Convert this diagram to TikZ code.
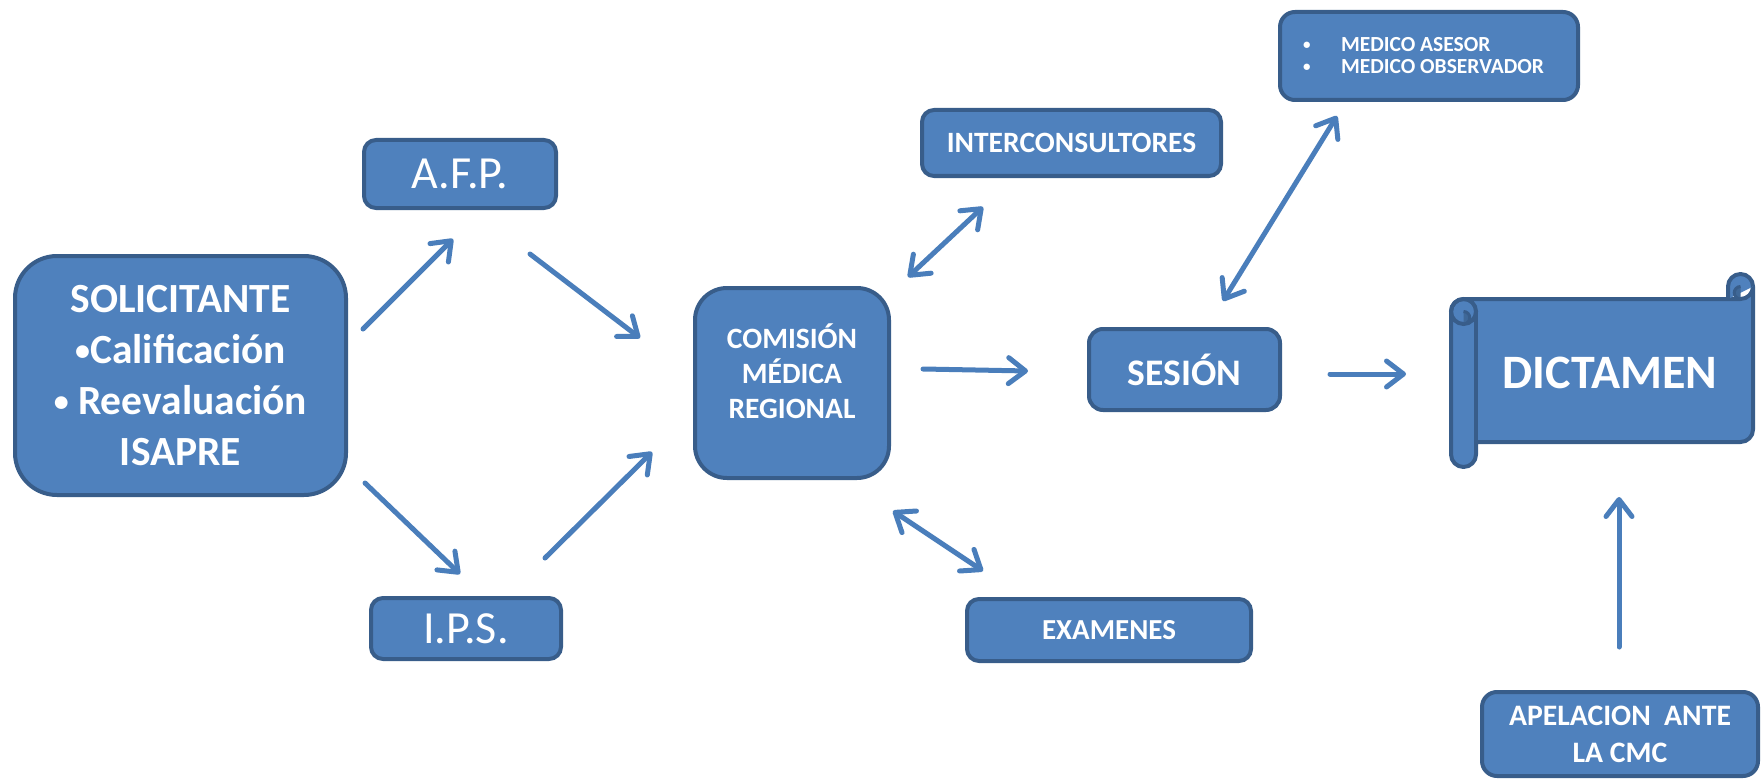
\documentclass[tikz,border=0pt]{standalone}
\usepackage{fontspec}
\setmainfont{Carlito}
\usetikzlibrary{arrows.meta}
\definecolor{boxfill}{HTML}{4F81BD}
\definecolor{boxline}{HTML}{385D8A}
\definecolor{arrowblue}{HTML}{4A7EBB}
\definecolor{rolldark}{HTML}{3F6898}
\newcommand{\mybul}[2]{\raisebox{#2}{\fontsize{#1}{#1}\selectfont •}}
\begin{document}
\begin{tikzpicture}[x=1pt,y=1pt,
  box/.style={draw=boxline, fill=boxfill, line width=4pt, text=white, align=center, inner sep=0pt},
  arr/.style={draw=arrowblue, line width=5pt, line cap=round, -{Straight Barb[length=17pt,width=26pt,round]}},
  darr/.style={draw=arrowblue, line width=5pt, line cap=round, {Straight Barb[length=17pt,width=26pt,round]}-{Straight Barb[length=17pt,width=26pt,round]}},
  scroll/.style={draw=boxline, fill=boxfill, line width=4pt, line join=round},
  wtext/.style={text=white, align=center, inner sep=0pt},
]
\useasboundingbox (0,0) rectangle (1762,-781);

% boxes
\node[box, rounded corners=42pt, minimum width=331pt, minimum height=239pt,
      font=\bfseries\fontsize{41.5}{51}\selectfont] (sol) at (180.5,-375.5)
  {SOLICITANTE\\\mybul{30}{3pt}Calificación\\\mybul{30}{3pt} Reevaluación\\ISAPRE};
\node[box, rounded corners=12pt, minimum width=192pt, minimum height=68pt,
      font=\fontsize{46}{50}\selectfont] (afp) at (460,-174) {A.F.P.};
\node[box, rounded corners=12pt, minimum width=190pt, minimum height=61pt,
      font=\fontsize{46}{50}\selectfont] (ips) at (466,-628.5) {I.P.S.};
\node[box, rounded corners=32pt, minimum width=194pt, minimum height=190pt] (com) at (792,-383) {};
\node[wtext, font=\bfseries\fontsize{29.5}{35}\selectfont] (comtxt) at (792,-371)
  {COMISIÓN\\MÉDICA\\REGIONAL};
\node[box, rounded corners=12pt, minimum width=299pt, minimum height=66pt,
      font=\bfseries\fontsize{29.5}{34}\selectfont] (inter) at (1071.5,-143) {INTERCONSULTORES};
\node[box, rounded corners=12pt, minimum width=284pt, minimum height=62pt,
      font=\bfseries\fontsize{29}{34}\selectfont] (exam) at (1109,-630) {EXAMENES};
\node[box, rounded corners=14pt, minimum width=191pt, minimum height=81pt,
      font=\bfseries\fontsize{37.5}{40}\selectfont] (ses) at (1184.5,-369.5) {SESIÓN};
\node[box, rounded corners=15pt, minimum width=298pt, minimum height=88pt, align=left,
      font=\bfseries\fontsize{21.5}{22}\selectfont] (med) at (1429,-56)
  {\makebox[252pt][l]{\makebox[38pt][l]{\mybul{15}{2pt}}MEDICO ASESOR}\\
   \makebox[252pt][l]{\makebox[38pt][l]{\mybul{15}{2pt}}MEDICO OBSERVADOR}};
\node[box, rounded corners=15pt, minimum width=276pt, minimum height=84pt,
      font=\bfseries\fontsize{29.7}{37}\selectfont] (apel) at (1620,-734)
  {APELACION\ \ ANTE\\LA CMC};

% scroll (DICTAMEN)
\path[scroll] (1753,-286.5) arc[start angle=0,end angle=-90,radius=12.5]
  -- (1463.5,-299) arc[start angle=90,end angle=180,radius=12.5]
  -- (1451,-454.5) arc[start angle=180,end angle=360,radius=12.5]
  -- (1476,-442) -- (1740.5,-442) arc[start angle=270,end angle=360,radius=12.5]
  -- cycle;
\path[scroll] (1728,-299) -- (1728,-286.5) arc[start angle=180,end angle=0,radius=12.5] -- (1753,-286.5);
\fill[rolldark] (1740.5,-299) arc[start angle=270,end angle=90,radius=6.25] -- cycle;
\draw[boxline, line width=3pt] (1740.5,-299) arc[start angle=270,end angle=90,radius=6.25];
\draw[boxline, line width=4pt] (1463.5,-311.5) circle[radius=12.5];
\fill[rolldark] (1463.5,-324) arc[start angle=-90,end angle=90,radius=6.25] -- cycle;
\draw[boxline, line width=3pt] (1463.5,-324) arc[start angle=-90,end angle=90,radius=6.25];
\draw[boxline, line width=4pt] (1476,-311.5) -- (1476,-442);
\node[wtext, font=\bfseries\fontsize{48}{50}\selectfont] (dict) at (1610,-373) {DICTAMEN};

% arrow end points
\coordinate (s1a) at (363,-329);  \coordinate (s1b) at (453,-239);
\coordinate (a2a) at (530,-254);  \coordinate (a2b) at (640,-338);
\coordinate (s3a) at (365,-483);  \coordinate (s3b) at (460,-574);
\coordinate (i4a) at (545,-558);  \coordinate (i4b) at (652,-452);
\coordinate (c5a) at (908,-277);  \coordinate (c5b) at (983,-207);
\coordinate (c6a) at (893,-511);  \coordinate (c6b) at (983,-571);
\coordinate (c7a) at (923,-369);  \coordinate (c7b) at (1028,-371);
\coordinate (s8a) at (1223,-301); \coordinate (s8b) at (1337,-116);
\coordinate (s9a) at (1330,-374); \coordinate (s9b) at (1406,-374);
\coordinate (apa) at (1619,-647); \coordinate (apb) at (1619,-497);

\draw[arr] (s1a) -- (s1b);
\draw[arr] (a2a) -- (a2b);
\draw[arr] (s3a) -- (s3b);
\draw[arr] (i4a) -- (i4b);
\draw[darr] (c5a) -- (c5b);
\draw[darr] (c6a) -- (c6b);
\draw[arr] (c7a) -- (c7b);
\draw[darr] (s8a) -- (s8b);
\draw[arr] (s9a) -- (s9b);
\draw[arr] (apa) -- (apb);
\end{tikzpicture}
\end{document}
